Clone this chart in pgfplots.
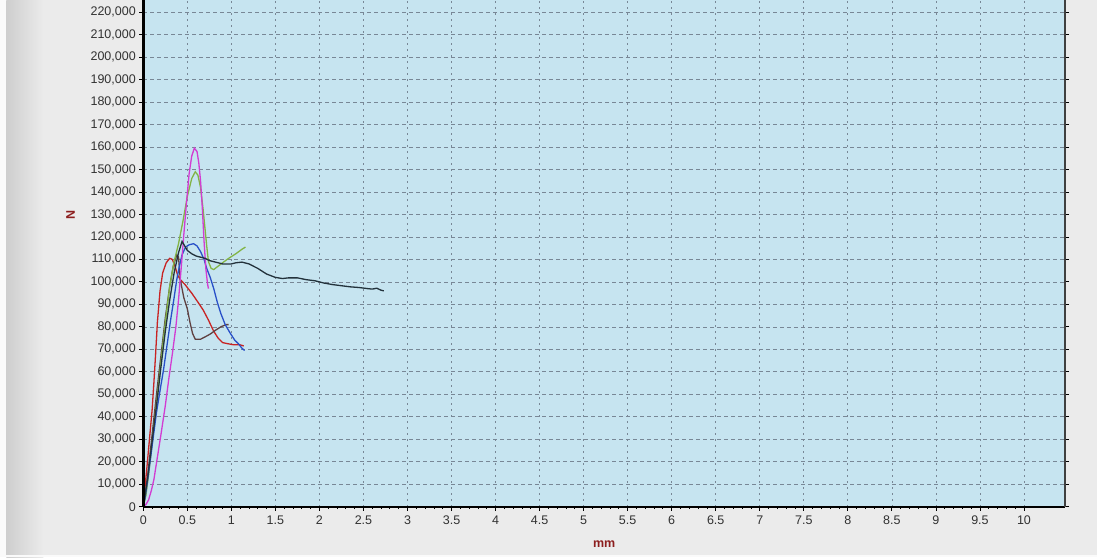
\documentclass[border=0pt]{standalone}
\usepackage{pgfplots}
\pgfplotsset{compat=1.18}
\usepackage{fontspec}
\setmainfont{Liberation Sans}
\definecolor{bggray}{RGB}{235,235,235}
\definecolor{stripgray}{RGB}{206,206,206}
\definecolor{plotbg}{RGB}{198,228,240}
\definecolor{gridc}{RGB}{120,135,150}
\definecolor{labred}{RGB}{140,30,30}
\definecolor{tickc}{RGB}{50,50,50}
\definecolor{cred}{RGB}{200,35,35}
\definecolor{cbrown}{RGB}{95,65,65}
\definecolor{cblack}{RGB}{35,50,60}
\definecolor{cblue}{RGB}{40,80,200}
\definecolor{cmag}{RGB}{210,60,210}
\definecolor{cgreen}{RGB}{130,180,70}
\begin{document}
\begin{tikzpicture}
\useasboundingbox (-143.3pt,-50.3pt) rectangle (953.7pt,506.7pt);
\fill[bggray] (-143.3pt,-50.3pt) rectangle (953.7pt,506.7pt);
\fill[white!96!gray] (-143.3pt,-50.3pt) rectangle (-137pt,506.7pt);
\shade[left color=stripgray,right color=bggray] (-137pt,-50.3pt) rectangle (-100pt,506.7pt);
\fill[white!96!gray] (-143.3pt,-50.3pt) rectangle (953.7pt,-48.5pt);
\begin{axis}[
  at={(0pt,0pt)}, anchor=south west,
  scale only axis, width=921.7pt, height=506.7pt,
  xmin=0, xmax=10.466, ymin=0, ymax=225400,
  clip=false,
  axis background/.style={fill=plotbg},
  axis line style={draw=none},
  xtick={0,0.5,1,1.5,2,2.5,3,3.5,4,4.5,5,5.5,6,6.5,7,7.5,8,8.5,9,9.5,10},
  ytick={0,10000,20000,30000,40000,50000,60000,70000,80000,90000,100000,110000,120000,130000,140000,150000,160000,170000,180000,190000,200000,210000,220000},
  minor x tick num=4,
  scaled x ticks=false, scaled y ticks=false,
  tick align=outside,
  major tick length=4pt, minor tick length=2.5pt,
  tick style={black, line width=0.8pt},
  xmajorgrids, ymajorgrids,
  x grid style={gridc, line width=0.7pt, dash pattern=on 2pt off 4pt},
  y grid style={gridc, line width=0.7pt, dash pattern=on 4pt off 3pt},
  /pgf/number format/assume math mode=true,
  x tick label style={font=\fontsize{12.5}{14}\selectfont, text=tickc, yshift=-1.5pt, /pgf/number format/.cd, fixed, 1000 sep={}},
  y tick label style={font=\fontsize{12.5}{14}\selectfont, text=tickc, /pgf/number format/.cd, fixed, 1000 sep={,}},
  xlabel={mm}, ylabel={N},
  xlabel style={at={(rel axis cs:0.5,0)}, anchor=center, yshift=-37pt, font=\fontsize{12.5}{14}\selectfont\bfseries, text=labred},
  ylabel style={at={(rel axis cs:0,0.576)}, anchor=center, rotate=0, yshift=72.8pt, font=\fontsize{12.5}{14}\selectfont\bfseries, text=labred},
  every axis plot/.append style={line width=1.3pt, no markers},
]
% red
\addplot[cred] coordinates {(0,0)(0.01,4000)(0.02,9000)(0.04,17000)(0.07,30000)(0.1,43000)(0.12,55000)(0.14,68000)(0.16,82000)(0.19,96000)(0.22,104000)(0.26,108500)(0.3,110500)(0.33,110000)(0.36,107000)(0.39,103000)(0.42,101000)(0.47,99000)(0.55,95000)(0.62,91000)(0.68,87500)(0.74,83000)(0.8,78000)(0.85,75000)(0.9,73000)(0.96,72500)(1.03,72000)(1.1,72000)(1.14,71500)};
% brown
\addplot[cbrown] coordinates {(0,0)(0.02,5000)(0.05,14000)(0.1,32000)(0.15,50000)(0.2,67000)(0.25,84000)(0.3,98000)(0.34,107000)(0.38,112000)(0.4,111000)(0.42,101000)(0.46,93000)(0.5,88000)(0.53,82000)(0.56,77000)(0.59,74500)(0.65,74500)(0.7,75500)(0.76,76800)(0.82,78500)(0.88,80000)(0.94,81000)(0.97,81000)};
% green
\addplot[cgreen] coordinates {(0,0)(0.03,5000)(0.06,14000)(0.1,28000)(0.15,46000)(0.2,64000)(0.25,82000)(0.3,98000)(0.35,109000)(0.4,117000)(0.45,127000)(0.5,138000)(0.55,146000)(0.59,149000)(0.62,147500)(0.65,142000)(0.68,132000)(0.7,124000)(0.72,116000)(0.74,109000)(0.77,106000)(0.8,105500)(0.85,107000)(0.9,108500)(0.97,110500)(1.05,112500)(1.12,114500)(1.16,115500)};
% blue
\addplot[cblue] coordinates {(0,0)(0.02,4000)(0.05,12000)(0.1,27000)(0.15,42000)(0.2,54000)(0.23,61000)(0.27,72000)(0.31,83000)(0.35,93000)(0.38,101000)(0.41,107000)(0.44,112000)(0.48,115500)(0.52,116500)(0.57,117000)(0.61,116000)(0.65,113500)(0.69,110000)(0.72,106000)(0.76,102000)(0.8,97000)(0.84,91000)(0.88,86000)(0.93,81000)(0.99,77000)(1.04,74000)(1.08,72500)(1.12,70500)(1.15,69500)};
% magenta
\addplot[cmag] coordinates {(0,0)(0.03,1000)(0.06,3000)(0.09,7000)(0.12,12000)(0.16,22000)(0.2,32000)(0.25,45000)(0.29,57000)(0.33,68000)(0.37,80000)(0.4,92000)(0.43,106000)(0.46,121000)(0.49,135000)(0.52,148000)(0.55,156000)(0.58,159500)(0.61,158000)(0.63,153000)(0.65,145000)(0.67,133000)(0.69,118000)(0.71,106000)(0.73,99000)(0.74,97000)};
% black long
\addplot[cblack] coordinates {(0,0)(0.02,5000)(0.05,13000)(0.1,29000)(0.15,45000)(0.2,62000)(0.25,78000)(0.3,92000)(0.35,104000)(0.4,113000)(0.44,118000)(0.47,116000)(0.5,114000)(0.55,112500)(0.6,111500)(0.65,111000)(0.7,110500)(0.75,109500)(0.8,109000)(0.85,108500)(0.9,108000)(1.0,108000)(1.05,108500)(1.12,108800)(1.2,108000)(1.3,106000)(1.4,103500)(1.5,102000)(1.58,101500)(1.65,101800)(1.75,101800)(1.85,101000)(1.95,100500)(2.05,99500)(2.15,98800)(2.25,98300)(2.35,97800)(2.45,97500)(2.55,97000)(2.6,96800)(2.65,97200)(2.7,96300)(2.73,96000)};
\draw[black, line width=2.6pt] (rel axis cs:0,0) -- (rel axis cs:0,1);
\draw[black, line width=2pt] (rel axis cs:0,0) -- (rel axis cs:1,0);
\draw[black!75, line width=1.4pt] (rel axis cs:1,0) -- (rel axis cs:1,1);
\end{axis}
\end{tikzpicture}
\end{document}
